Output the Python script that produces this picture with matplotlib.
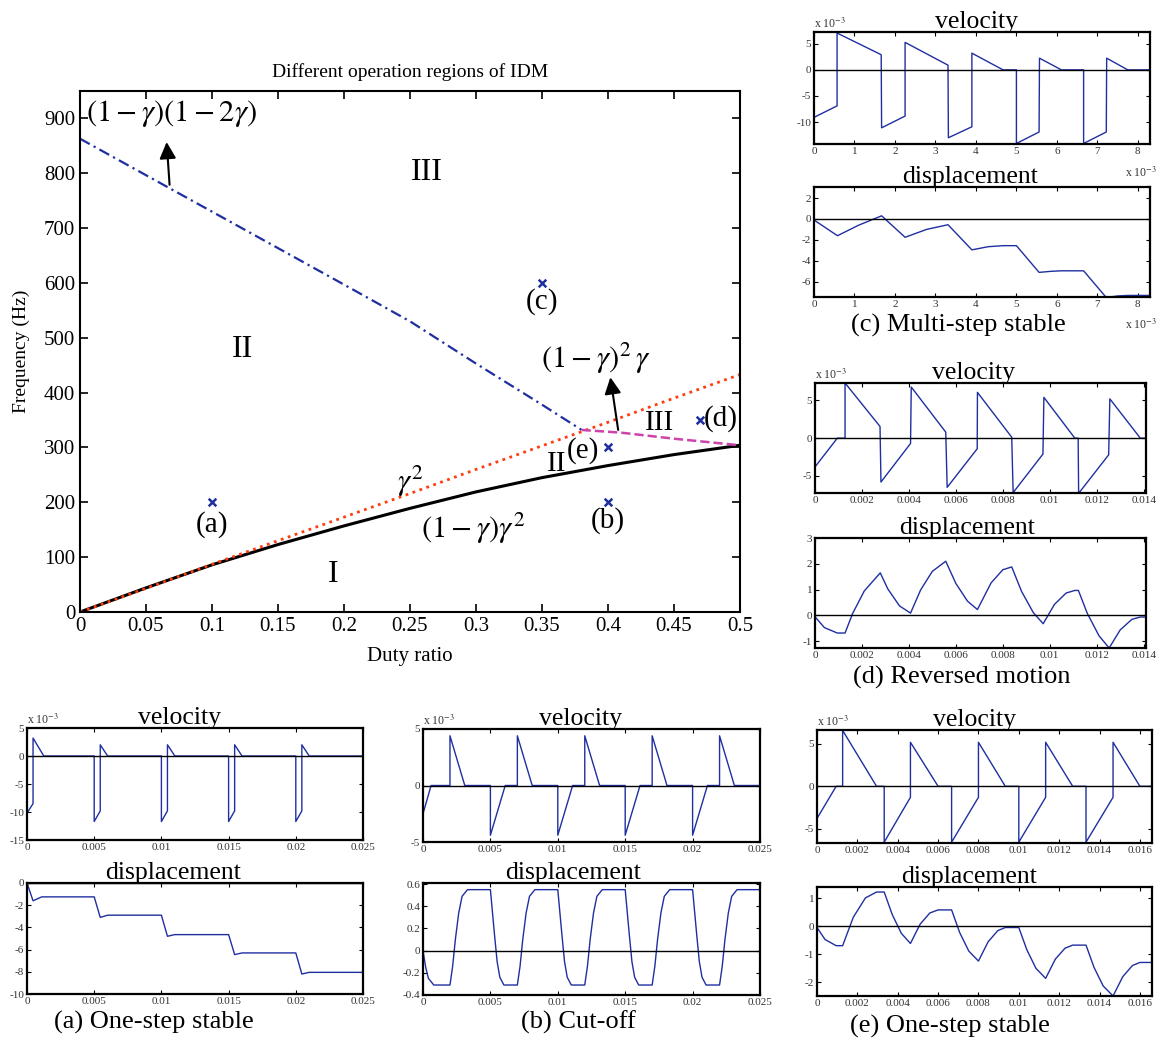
import matplotlib
matplotlib.use('Agg')
import matplotlib.pyplot as plt
from matplotlib.ticker import FuncFormatter

plt.rcParams['font.family'] = ['Liberation Serif', 'DejaVu Serif']
plt.rcParams['mathtext.fontset'] = 'stix'

# ---- main chart: operation regions ----
duty = [0, 0.05, 0.1, 0.15, 0.2, 0.25, 0.3, 0.35, 0.4, 0.45, 0.5]
f_black = [0, 44, 86, 123, 157, 189, 219, 245, 267, 287, 304]     # (1-g)g^2
f_red = [0, 43, 87, 130, 173, 216, 260, 303, 346, 390, 433]       # g^2
duty_blue = [0, 0.1, 0.2, 0.25, 0.3, 0.35, 0.38]
f_blue = [863, 730, 597, 530, 453, 378, 332]                      # (1-g)(1-2g)
duty_mag = [0.38, 0.41, 0.45, 0.5]
f_mag = [332, 327, 316, 304]                                      # (1-g)^2 g
pt_duty = [0.1, 0.35, 0.4, 0.4, 0.47]
pt_freq = [200, 600, 300, 200, 350]

# ---- (c) multi-step stable ----
c_t = [0, 0.57, 0.57, 1.66, 1.67, 2.25, 2.25, 3.31, 3.32, 3.9, 3.9, 4.67, 5.0, 5.0,
       5.56, 5.57, 6.11, 6.66, 6.66, 7.22, 7.23, 7.75, 8.3]
c_vel = [-9.1, -6.9, 7.05, 2.9, -11.1, -8.85, 5.26, 0.9, -13, -10.9, 3.2, 0, 0, -14.1,
         -11.9, 2.24, 0, 0, -14.1, -11.9, 2.24, 0, 0]
c_dt = [0, 0.58, 1.1, 1.67, 2.25, 2.78, 3.31, 3.9, 4.3, 4.67, 5.0, 5.56, 5.85, 6.11,
        6.66, 7.22, 7.5, 7.75, 8.3]
c_disp = [-0.1, -1.6, -0.6, 0.3, -1.75, -1.0, -0.55, -2.95, -2.65, -2.55, -2.55, -5.1,
          -5.0, -4.95, -4.95, -7.5, -7.35, -7.3, -7.3]

# ---- (d) reversed motion ----
d_t = [0, 0.00095, 0.00128, 0.00128, 0.00277, 0.00281, 0.00407, 0.0041, 0.00557,
       0.00563, 0.00691, 0.00692, 0.00838, 0.00844, 0.00971, 0.00975, 0.01107, 0.01121,
       0.01123, 0.01251, 0.01256, 0.01386, 0.0141]
d_vel = [-3.8, 0, 0, 7.3, 1.55, -5.8, -0.7, 6.77, 0.8, -6.5, -1.4, 6.06, 0.13, -7.2,
         -2.1, 5.4, 0, 0, -7.3, -2.2, 5.2, 0, 0]
d_dt = [0, 0.0004, 0.00095, 0.00128, 0.0016, 0.0021, 0.00278, 0.0031, 0.0036, 0.00407,
        0.0045, 0.005, 0.00557, 0.006, 0.0065, 0.00692, 0.0075, 0.008, 0.00838, 0.0088,
        0.0093, 0.00972, 0.0102, 0.0107, 0.01107, 0.01122, 0.0116, 0.0121, 0.01253,
        0.013, 0.0135, 0.01386, 0.0141]
d_disp = [-0.05, -0.47, -0.68, -0.68, 0.07, 0.95, 1.65, 1.03, 0.37, 0.09, 0.99, 1.71,
          2.1, 1.24, 0.55, 0.23, 1.26, 1.77, 1.88, 0.93, 0.11, -0.32, 0.43, 0.87, 0.97,
          0.97, 0.08, -0.79, -1.26, -0.56, -0.15, -0.06, -0.06]

# ---- (a) one-step stable ----
a_t = [0, 0.00045, 0.00045, 0.00125, 0.005, 0.005, 0.00545, 0.00545, 0.006, 0.01, 0.01,
       0.01045, 0.01045, 0.011, 0.015, 0.015, 0.01545, 0.01545, 0.016, 0.02, 0.02,
       0.02045, 0.02045, 0.021, 0.025]
a_vel = [-10.2, -8.5, 3.2, 0, 0, -11.7, -9.8, 2, 0, 0, -11.7, -9.8, 2, 0, 0, -11.7, -9.8,
         2, 0, 0, -11.7, -9.8, 2, 0, 0]
a_dt = [0, 0.00045, 0.0011, 0.005, 0.00545, 0.006, 0.01, 0.01045, 0.011, 0.015, 0.01545,
        0.016, 0.02, 0.02045, 0.021, 0.025]
a_disp = [0, -1.6, -1.25, -1.25, -3.1, -2.9, -2.9, -4.8, -4.65, -4.65, -6.45, -6.3, -6.3,
          -8.2, -8.05, -8.05]

# ---- (b) cut-off ----
b_t = [0, 0.0006, 0.002, 0.002, 0.0031, 0.005, 0.005, 0.0061, 0.007, 0.007, 0.0081, 0.01,
       0.01, 0.0111, 0.012, 0.012, 0.0131, 0.015, 0.015, 0.0161, 0.017, 0.017, 0.0181,
       0.02, 0.02, 0.0211, 0.022, 0.022, 0.0231, 0.025]
b_vel = [-2.5, 0, 0, 4.4, 0, 0, -4.4, 0, 0, 4.4, 0, 0, -4.4, 0, 0, 4.4, 0, 0, -4.4, 0, 0,
         4.4, 0, 0, -4.4, 0, 0, 4.4, 0, 0]
b_dt = [0, 0.0002, 0.0004, 0.0008, 0.002, 0.0022, 0.0024, 0.00265, 0.0029, 0.0033,
        0.005, 0.0053, 0.0055, 0.0057, 0.006, 0.007, 0.0072, 0.0074, 0.00765, 0.0079, 0.0083,
        0.01, 0.0103, 0.0105, 0.0107, 0.011, 0.012, 0.0122, 0.0124, 0.01265, 0.0129, 0.0133,
        0.015, 0.0153, 0.0155, 0.0157, 0.016, 0.017, 0.0172, 0.0174, 0.01765, 0.0179, 0.0183,
        0.02, 0.0203, 0.0205, 0.0207, 0.021, 0.022, 0.0222, 0.0224, 0.02265, 0.0229, 0.0233,
        0.025]
b_disp = [0, -0.15, -0.25, -0.31, -0.31, -0.14, 0.1, 0.34, 0.49, 0.55,
          0.55, 0.15, -0.1, -0.24, -0.31, -0.31, -0.14, 0.1, 0.34, 0.49, 0.55,
          0.55, 0.15, -0.1, -0.24, -0.31, -0.31, -0.14, 0.1, 0.34, 0.49, 0.55,
          0.55, 0.15, -0.1, -0.24, -0.31, -0.31, -0.14, 0.1, 0.34, 0.49, 0.55,
          0.55, 0.15, -0.1, -0.24, -0.31, -0.31, -0.14, 0.1, 0.34, 0.49, 0.55,
          0.55]

# ---- (e) one-step stable ----
e_t = [0, 0.00095, 0.00127, 0.00127, 0.00295, 0.00333, 0.00333, 0.00463, 0.00463, 0.006,
       0.00667, 0.00667, 0.008, 0.008, 0.00933, 0.01, 0.01, 0.01133, 0.01133, 0.01267,
       0.01333, 0.01333, 0.01467, 0.01467, 0.016, 0.0166]
e_vel = [-3.8, 0, 0, 6.6, 0, 0, -6.6, -1.3, 5.2, 0, 0, -6.6, -1.3, 5.2, 0, 0, -6.6, -1.3,
         5.2, 0, 0, -6.6, -1.3, 5.2, 0, 0]
e_dt = [0, 0.0004, 0.00095, 0.00127, 0.0018, 0.0024, 0.00295, 0.00333, 0.00373, 0.00418,
        0.00463, 0.00511, 0.00559, 0.006, 0.00667, 0.00707, 0.00752, 0.008, 0.00848,
        0.00896, 0.00933, 0.01, 0.0104, 0.01085, 0.01133, 0.01181, 0.01229, 0.01267,
        0.01333, 0.01373, 0.01418, 0.01467, 0.01515, 0.01563, 0.016, 0.0166]
e_disp = [-0.05, -0.48, -0.7, -0.7, 0.32, 1.01, 1.22, 1.22, 0.41, -0.26, -0.62, 0.07, 0.47,
          0.58, 0.58, -0.23, -0.89, -1.25, -0.56, -0.16, -0.05, -0.05, -0.85, -1.51, -1.87,
          -1.18, -0.79, -0.68, -0.68, -1.48, -2.14, -2.5, -1.81, -1.41, -1.3, -1.3]

W, H = 1162, 1044
fig = plt.figure(figsize=(W / 100, H / 100), dpi=100)


def rect(left, top, right, bottom):
    return [left / W, 1 - bottom / H, (right - left) / W, (bottom - top) / H]


gfmt = FuncFormatter(lambda v, p: '%g' % round(v, 6))

# main axes
ax = fig.add_axes(rect(80, 91, 740, 612))
ax.plot(duty_blue, f_blue, color='#1f2f9f', lw=1.6, ls=(0, (5, 2, 1, 2)))
ax.plot(duty, f_black, color='black', lw=2.2)
ax.plot(duty, f_red, color='#ff3b10', lw=2.0, ls=':')
ax.plot(duty_mag, f_mag, color='#cc44aa', lw=1.8, ls='--')
ax.scatter(pt_duty, pt_freq, marker='x', color='#1f2f9f', s=30, lw=1.8, zorder=5)
ax.set_xlim(0, 0.5)
ax.set_ylim(0, 950)
ax.set_xticks([0, 0.05, 0.1, 0.15, 0.2, 0.25, 0.3, 0.35, 0.4, 0.45, 0.5])
ax.set_yticks(range(0, 1000, 100))
ax.xaxis.set_major_formatter(gfmt)
ax.tick_params(direction='in', top=True, right=True, labelsize=15, length=6, width=1.2)
for s in ax.spines.values():
    s.set_linewidth(1.5)
ax.set_title('Different operation regions of IDM', fontsize=14, pad=10)
ax.set_xlabel('Duty ratio', fontsize=15, labelpad=8)
ax.set_ylabel('Frequency (Hz)', fontsize=14, labelpad=10)

big = 21
ax.text(0.0697, 909, r'$(1-\gamma)(1-2\gamma)$', fontsize=22, ha='center', va='center')
ax.annotate('', xy=(0.0655, 862), xytext=(0.068, 774),
            arrowprops=dict(arrowstyle='-|>', color='black', lw=1.5, mutation_scale=25))
ax.text(0.391, 463, r'$(1-\gamma)^2\,\gamma$', fontsize=22, ha='center', va='center')
ax.annotate('', xy=(0.4015, 433), xytext=(0.408, 327),
            arrowprops=dict(arrowstyle='-|>', color='black', lw=1.5, mutation_scale=25))
ax.text(0.25, 239, r'$\gamma^2$', fontsize=22, ha='center', va='center')
ax.text(0.298, 153, r'$(1-\gamma)\gamma^2$', fontsize=22, ha='center', va='center')
for txt, x, y, fs in [('III', 0.263, 801, 23), ('II', 0.123, 478, 23), ('I', 0.192, 69, 23),
                      ('(a)', 0.1, 160, big), ('(c)', 0.35, 567, big), ('(b)', 0.4, 166, big),
                      ('(d)', 0.4856, 352, big), ('(e)', 0.381, 294, big),
                      ('II', 0.361, 270, big), ('III', 0.439, 345, big)]:
    ax.text(x, y, txt, fontsize=fs, ha='center', va='center')


def small(r, t, y, ylim, xlim, yticks, xticks, title, tx):
    a = fig.add_axes(r)
    a.plot(t, y, color='#1f2fa0', lw=1.0)
    a.axhline(0, color='black', lw=1.0)
    a.set_xlim(*xlim)
    a.set_ylim(*ylim)
    a.set_yticks(yticks)
    a.set_xticks(xticks)
    a.xaxis.set_major_formatter(gfmt)
    a.yaxis.set_major_formatter(gfmt)
    a.tick_params(direction='in', top=True, right=True, labelsize=8, length=3,
                  labelcolor='#333333', pad=2)
    for s in a.spines.values():
        s.set_linewidth(1.6)
    a.set_title(title, fontsize=18.5, pad=3, x=tx)
    return a


def exp_label(a, x, y, ha):
    a.text(x, y, r'x 10$^{-3}$', transform=a.transAxes, fontsize=8.5, ha=ha,
           va='bottom', color='#333333')


# (c)
xc = list(range(0, 9))
v = small(rect(814, 32, 1150, 144), c_t, c_vel, (-14.2, 7.25), (0, 8.3),
          [5, 0, -5, -10], xc, 'velocity', 0.485)
exp_label(v, 0.0, 1.01, 'left')
exp_label(v, 1.02, -0.32, 'right')
v = small(rect(814, 187, 1150, 297), c_dt, c_disp, (-7.45, 3.05), (0, 8.3),
          [2, 0, -2, -4, -6], xc, 'displacement', 0.465)
exp_label(v, 1.02, -0.32, 'right')
fig.text(958 / W, 1 - 325 / H, '(c) Multi-step stable', fontsize=19, ha='center', va='center')

# (d)
xd = [0, 0.002, 0.004, 0.006, 0.008, 0.01, 0.012, 0.014]
v = small(rect(815, 383, 1146, 493), d_t, d_vel, (-7.25, 7.3), (0, 0.0141),
          [5, 0, -5], xd, 'velocity', 0.48)
exp_label(v, 0.0, 1.01, 'left')
small(rect(815, 538, 1146, 648), d_dt, d_disp, (-1.26, 3.0), (0, 0.0141),
      [3, 2, 1, 0, -1], xd, 'displacement', 0.46)
fig.text(962 / W, 1 - 677 / H, '(d) Reversed motion', fontsize=19, ha='center', va='center')

# (a)
xa = [0, 0.005, 0.01, 0.015, 0.02, 0.025]
v = small(rect(27, 728, 363, 840), a_t, a_vel, (-15, 5), (0, 0.025),
          [5, 0, -5, -10, -15], xa, 'velocity', 0.455)
exp_label(v, 0.0, 1.01, 'left')
small(rect(27, 883, 363, 994), a_dt, a_disp, (-10, 0), (0, 0.025),
      [0, -2, -4, -6, -8, -10], xa, 'displacement', 0.435)
fig.text(154 / W, 1 - 1022 / H, '(a) One-step stable', fontsize=19, ha='center', va='center')

# (b)
v = small(rect(423, 729, 760, 842), b_t, b_vel, (-5, 5), (0, 0.025),
          [5, 0, -5], xa, 'velocity', 0.466)
exp_label(v, 0.0, 1.01, 'left')
small(rect(423, 883, 760, 995), b_dt, b_disp, (-0.4, 0.61), (0, 0.025),
      [0.6, 0.4, 0.2, 0, -0.2, -0.4], xa, 'displacement', 0.445)
fig.text(578 / W, 1 - 1022 / H, '(b) Cut-off', fontsize=19, ha='center', va='center')

# (e)
xe = [0, 0.002, 0.004, 0.006, 0.008, 0.01, 0.012, 0.014, 0.016]
v = small(rect(817, 730, 1152, 843), e_t, e_vel, (-6.7, 6.65), (0, 0.0166),
          [5, 0, -5], xe, 'velocity', 0.47)
exp_label(v, 0.0, 1.01, 'left')
small(rect(817, 887, 1152, 996), e_dt, e_disp, (-2.5, 1.4), (0, 0.0166),
      [1, 0, -1, -2], xe, 'displacement', 0.455)
fig.text(950 / W, 1 - 1026 / H, '(e) One-step stable', fontsize=19, ha='center', va='center')

fig.savefig('out.png', dpi=100)
